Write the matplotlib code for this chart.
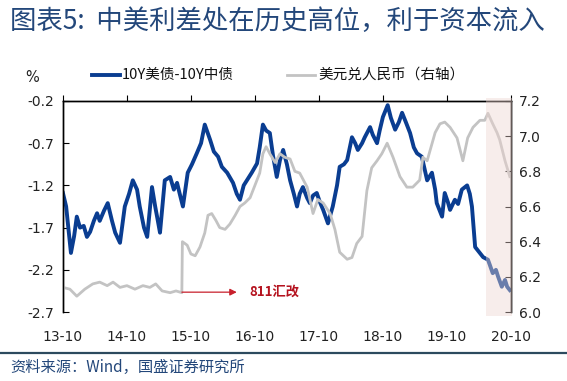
import numpy as np
import matplotlib.pyplot as plt
from matplotlib.lines import Line2D

plt.rcParams['font.family'] = ['Noto Sans CJK SC', 'DejaVu Sans']

# months since 2013-10
spread_t = [0.0, 0.6, 1.5, 2.1, 2.6, 3.2, 3.9, 4.5, 5.1, 5.8, 6.4, 6.9, 7.7, 8.4, 9.2, 9.8,
            10.7, 11.6, 12.4, 13.1, 13.9, 14.4, 15.2, 15.8, 16.7, 17.3, 17.8, 18.2, 19.1,
            20.1, 20.8, 21.4, 21.9, 22.5, 23.4, 24.2, 25.1, 25.9, 26.6, 27.6, 28.3, 29.1,
            29.8, 30.8, 31.9, 32.6, 33.2, 33.9, 34.5, 35.4, 36.4, 36.9, 37.5, 38.1, 38.8,
            39.4, 40.1, 40.7, 41.3, 42.0, 42.6, 43.3, 43.9, 44.4, 45.0, 45.8, 46.3, 46.9,
            47.6, 48.2, 48.8, 49.7, 50.6, 51.4, 51.9, 52.7, 53.3, 54.2, 54.8, 55.3, 56.1,
            56.6, 57.6, 58.1, 58.9, 59.4, 60.0, 60.9, 61.5, 62.3, 63.0, 63.6, 64.3, 65.1,
            65.8, 66.4, 67.3, 68.3, 69.2, 69.8, 70.1, 71.1, 71.6, 72.2, 72.6, 73.5, 74.1,
            74.8, 75.8, 76.3, 76.7, 77.3, 77.8, 78.8, 79.7, 80.1, 80.6, 81.2, 81.6, 82.3,
            82.9, 83.3, 83.8]
spread_v = [-1.29, -1.45, -2.00, -1.80, -1.57, -1.70, -1.68, -1.81, -1.75, -1.62, -1.53,
            -1.62, -1.50, -1.41, -1.62, -1.76, -1.88, -1.45, -1.30, -1.14, -1.25, -1.45,
            -1.70, -1.81, -1.22, -1.45, -1.62, -1.76, -1.14, -1.10, -1.25, -1.17, -1.30,
            -1.45, -1.05, -0.95, -0.82, -0.70, -0.48, -0.66, -0.80, -0.86, -0.98, -1.05,
            -1.17, -1.30, -1.37, -1.20, -1.14, -1.05, -0.94, -0.75, -0.48, -0.55, -0.58,
            -0.85, -1.10, -0.90, -0.78, -0.95, -1.14, -1.30, -1.45, -1.30, -1.22, -1.35,
            -1.41, -1.32, -1.29, -1.40, -1.49, -1.65, -1.45, -1.20, -0.98, -0.95, -0.90,
            -0.63, -0.70, -0.78, -0.70, -0.63, -0.51, -0.60, -0.70, -0.55, -0.39, -0.25,
            -0.40, -0.54, -0.45, -0.34, -0.45, -0.58, -0.75, -0.82, -0.86, -1.14, -1.05,
            -1.25, -1.41, -1.57, -1.29, -1.40, -1.49, -1.37, -1.42, -1.25, -1.20, -1.30,
            -1.45, -1.93, -1.97, -2.05, -2.08, -2.15, -2.24, -2.20, -2.28, -2.40, -2.32,
            -2.40, -2.44]

cny_t = [0.0, 1.3, 2.6, 4.1, 5.6, 6.9, 8.3, 9.4, 10.7, 12.0, 13.5, 15.0, 16.3, 17.4, 18.6,
         20.1, 21.2, 22.3, 22.4, 23.3, 24.0, 24.8, 25.7, 26.6, 27.2, 27.9, 28.7, 29.4, 30.4,
         31.3, 32.3, 33.2, 34.1, 35.1, 36.0, 36.9, 37.5, 38.1, 38.8, 39.8, 40.7, 41.6, 42.6,
         43.5, 44.4, 45.8, 46.9, 47.8, 48.8, 50.1, 51.0, 51.9, 53.3, 54.2, 55.1, 56.1, 57.0,
         57.9, 58.9, 59.8, 60.8, 61.9, 63.2, 64.5, 65.6, 66.9, 67.5, 68.3, 69.8, 70.7, 71.6,
         72.6, 73.9, 75.0, 75.9, 76.9, 78.2, 79.1, 79.7, 80.6, 81.4, 81.9, 82.9, 83.8]
cny_v = [6.14, 6.13, 6.09, 6.13, 6.16, 6.17, 6.15, 6.17, 6.14, 6.15, 6.13, 6.15, 6.14, 6.16,
         6.12, 6.11, 6.12, 6.11, 6.40, 6.38, 6.33, 6.32, 6.37, 6.45, 6.55, 6.56, 6.52, 6.48,
         6.47, 6.50, 6.55, 6.60, 6.62, 6.65, 6.72, 6.79, 6.90, 6.94, 6.90, 6.85, 6.90, 6.88,
         6.87, 6.80, 6.79, 6.71, 6.56, 6.64, 6.62, 6.56, 6.47, 6.34, 6.30, 6.31, 6.39, 6.43,
         6.69, 6.82, 6.86, 6.90, 6.96, 6.88, 6.77, 6.71, 6.71, 6.75, 6.88, 6.86, 7.02, 7.07,
         7.08, 7.05, 6.99, 6.86, 6.99, 7.05, 7.09, 7.09, 7.13, 7.07, 7.02, 6.98, 6.86, 6.77]

xtick_pos = [0, 12, 24, 36, 48, 60, 72, 84]
xtick_labels = ['13-10', '14-10', '15-10', '16-10', '17-10', '18-10', '19-10', '20-10']
left_ticks = [-2.7, -2.2, -1.7, -1.2, -0.7, -0.2]
right_ticks = [6.0, 6.2, 6.4, 6.6, 6.8, 7.0, 7.2]
shade_start, shade_end = 79.3, 84.2
devalue_t, devalue_v, arrow_end = 22.3, 6.113, 32.6

blue = '#0a3d91'
gray = '#c3c3c3'
navy = '#23477a'
tick_font = 'DejaVu Sans'

fig = plt.figure(figsize=(5.67, 3.81), dpi=100)
ax = fig.add_axes([0.111, 0.181, 0.790, 0.554])
ax2 = ax.twinx()

ax.plot(spread_t, spread_v, color=blue, lw=2.8, solid_joinstyle='round')
ax2.plot(cny_t, cny_v, color=gray, lw=2.0, solid_joinstyle='round')

ax.set_xlim(0, 84)
ax.set_ylim(-2.7, -0.2)
ax2.set_ylim(6.0, 7.2)

ax.set_xticks(xtick_pos)
ax.set_xticklabels(xtick_labels, fontfamily=tick_font, fontsize=10, color='#222222')
ax.tick_params(axis='x', top=True, bottom=False, labeltop=False, labelbottom=True,
               direction='out', length=4, pad=9)
ax.set_yticks(left_ticks)
ax.set_yticklabels([f'{v:.1f}' for v in left_ticks], fontfamily=tick_font, fontsize=10,
                   color='#222222')
ax.tick_params(axis='y', direction='in', length=4, pad=6)
ax2.set_yticks(right_ticks)
ax2.set_yticklabels([f'{v:.1f}' for v in right_ticks], fontfamily=tick_font, fontsize=10,
                    color='#222222')
ax2.tick_params(axis='y', direction='in', length=4, pad=6)

for a in (ax, ax2):
    a.spines['bottom'].set_visible(False)
    for s in ('top', 'left', 'right'):
        a.spines[s].set_linewidth(1.0)
        a.spines[s].set_color('black')

# highlighted recent period, drawn over the lines
ax2.axvspan(shade_start, shade_end, ymin=-0.02, ymax=1.015, color='#eed6d0', alpha=0.42,
            lw=0, zorder=5, clip_on=False)

# 811 devaluation arrow
ax2.annotate('', xy=(arrow_end, devalue_v), xytext=(devalue_t, devalue_v),
             arrowprops=dict(arrowstyle='-|>', color='#c8202c', lw=0.9, mutation_scale=10,
                             shrinkA=0, shrinkB=0))
ax2.text(arrow_end + 2.4, devalue_v, '811汇改', color='#b5131f', fontsize=9.5,
         fontweight='bold', va='center', ha='left')

# legend
fig.add_artist(Line2D([92 / 567, 120 / 567], [1 - 75 / 381] * 2, color=blue, lw=2.8))
fig.text(122 / 567, 1 - 75 / 381, '10Y美债-10Y中债', fontsize=10.5, va='center',
         color='#111111')
fig.add_artist(Line2D([287 / 567, 315 / 567], [1 - 75 / 381] * 2, color=gray, lw=2.0))
fig.text(318 / 567, 1 - 75 / 381, '美元兑人民币（右轴）', fontsize=10.5, va='center',
         color='#111111')
fig.text(32 / 567, 1 - 78 / 381, '%', fontsize=10.5, fontfamily=tick_font, va='center',
         ha='center', color='#222222')

# title and source
fig.text(10 / 567, 1 - 21 / 381, '图表5:  中美利差处在历史高位，利于资本流入', fontsize=19,
         color=navy, va='center', ha='left')
fig.add_artist(Line2D([0, 1], [1 - 353 / 381] * 2, color='#2c4a5e', lw=1.6))
fig.text(10 / 567, 1 - 367 / 381, '资料来源：Wind，国盛证券研究所', fontsize=11,
         color=navy, va='center', ha='left')

fig.savefig('out.png', dpi=100)
